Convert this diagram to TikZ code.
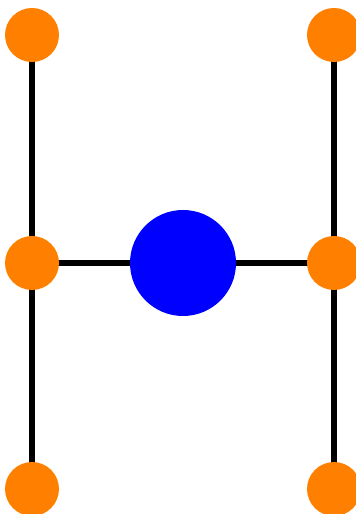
\documentclass[tikz,border=0pt]{standalone}
\usepackage{tikz}
\usetikzlibrary{positioning,backgrounds}
\definecolor{HOrange}{HTML}{FF8000}
\definecolor{HBlue}{HTML}{0000FF}
\tikzset{
hleaf/.style={circle, fill=HOrange, inner sep=0pt, minimum size=54pt},
hhub/.style={circle, fill=HBlue, inner sep=0pt, minimum size=106pt},
hedge/.style={line width=6pt, draw=black}
}
\begin{document}
\begin{tikzpicture}[x=1pt, y=1pt]
\useasboundingbox (0,0) rectangle (356,514);
\clip (0,0) rectangle (356,514);
% leaves of the H
\node[hleaf] (tl) at (32,479) {};
\node[hleaf] (tr) at (334,479) {};
\node[hleaf] (ml) at (32,251) {};
\node[hleaf] (mr) at (334,251) {};
\node[hleaf] (bl) at (32,25) {};
\node[hleaf] (br) at (334,25) {};
\node[hhub] (hub) at (183,251) {};

% edges behind the circles
\begin{scope}[on background layer]
\draw[hedge] (tl.center) -- (ml.center) -- (bl.center);
\draw[hedge] (tr.center) -- (mr.center) -- (br.center);
\draw[hedge] (ml.center) -- (hub.center) -- (mr.center);
\end{scope}
\end{tikzpicture}
\end{document}
